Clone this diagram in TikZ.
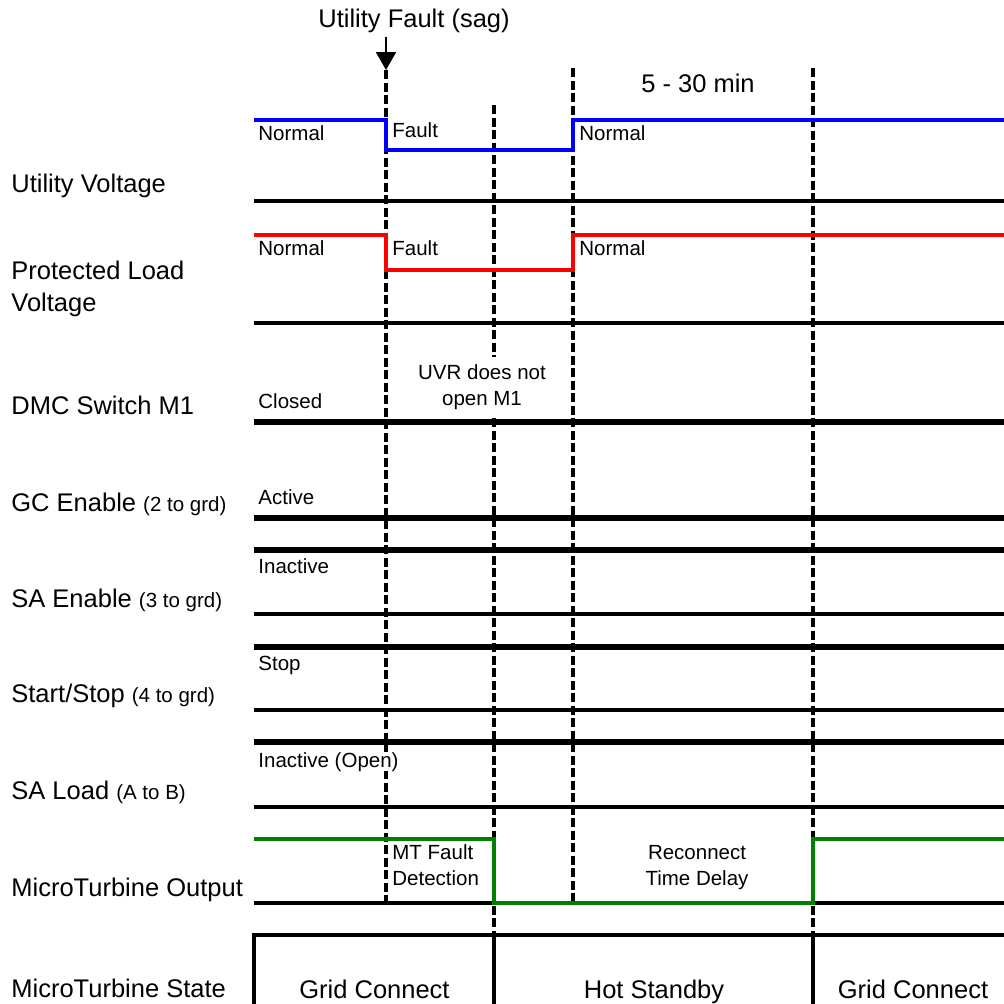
\documentclass[tikz,border=0pt]{standalone}
\usepackage{fontspec}
\setmainfont{Liberation Sans}
\usepackage{xcolor}
\definecolor{utilblue}{HTML}{0000FF}
\definecolor{loadred}{HTML}{FF0000}
\definecolor{mtgreen}{HTML}{008000}
\usetikzlibrary{arrows.meta, positioning}
\newcommand{\bigsz}{\fontsize{12.75pt}{16pt}\selectfont}
\newcommand{\smsz}{\fontsize{10.25pt}{13pt}\selectfont}
\tikzset{
  rowlbl/.style  ={anchor=base west, inner sep=0pt, font=\bigsz},
  lvllbl/.style  ={anchor=base west, inner sep=0pt, font=\smsz},
  notelbl/.style ={align=center, inner sep=4pt, font=\smsz},
  statelbl/.style={anchor=base, inner sep=0pt, font=\bigsz},
  rail/.style ={line width=1.6pt, black},
  railb/.style={line width=2.8pt, black},
  tick/.style ={line width=1.6pt, black, dash pattern=on 4.5pt off 1.75pt},
  sig/.style  ={line width=2pt, line join=miter},
  evarr/.style={-{Triangle[length=9pt, width=10pt]}, line width=1pt, black},
}

\begin{document}
\begin{tikzpicture}[x=0.5pt, y=-0.5pt]
  \useasboundingbox (0,0) rectangle (1004,1003);

  % event times
  \coordinate (tA) at (386,70);
  \coordinate (tB) at (494,105);
  \coordinate (tC) at (573,68);
  \coordinate (tD) at (813,68);
  \coordinate (rEnd) at (1012,0);

  % rail levels
  \coordinate (uvHi) at (254,120);  \coordinate (uvLo) at (254,150);  \coordinate (uvB) at (254,201);
  \coordinate (plHi) at (254,235);  \coordinate (plLo) at (254,270);  \coordinate (plB) at (254,323);
  \coordinate (dmcB) at (254,422);
  \coordinate (gcB) at (254,518);
  \coordinate (saT) at (254,550);   \coordinate (saB) at (254,614);
  \coordinate (ssT) at (254,647);   \coordinate (ssB) at (254,710);
  \coordinate (slT) at (254,742);   \coordinate (slB) at (254,807);
  \coordinate (mtHi) at (254,839); \coordinate (mtLo) at (254,903);
  \coordinate (stTop) at (254,935); \coordinate (stBot) at (254,1012);

  % top labels
  \node[font=\bigsz, inner sep=2pt, anchor=base] (flt) at (414,27) {Utility Fault (sag)};
  \node[font=\bigsz, inner sep=0pt, anchor=base] (dly) at (698,92) {5 - 30 min};
  \node[notelbl] (uvr) at (482,387.5) {UVR does not\\open M1};

  % event markers
  \draw[evarr] (tA |- flt.south) -- (tA);
  \draw[tick] (tA) -- (tA |- mtLo);
  \draw[tick] (tB) -- (tB |- uvr.north);
  \draw[tick] (tB |- uvr.south) -- (tB |- stTop);
  \draw[tick] (tC) -- (tC |- mtLo);
  \draw[tick] (tD) -- (tD |- stTop);

  % row labels
  \node[rowlbl] (uv) at (11,192) {Utility Voltage};
  \node[rowlbl, anchor=west, align=left] (plv) at (11,289) {Protected Load\\Voltage};
  \node[rowlbl] (dmc) at (11,414) {DMC Switch M1};
  \node[rowlbl] (gce) at (11,511) {GC Enable {\smsz(2 to grd)}};
  \node[rowlbl] (sae) at (11,607) {SA Enable {\smsz(3 to grd)}};
  \node[rowlbl] (ss) at (11,702) {Start/Stop {\smsz(4 to grd)}};
  \node[rowlbl] (sal) at (11,799) {SA Load {\smsz(A to B)}};
  \node[rowlbl] (mto) at (11,896) {MicroTurbine Output};
  \node[rowlbl] (mts) at (11,997) {MicroTurbine State};

  % level labels
  \node[lvllbl] (uvN1) at (258,140.5) {Normal};
  \node[lvllbl] (uvF) at (392,137) {Fault};
  \node[lvllbl] (uvN2) at (579,140) {Normal};
  \node[lvllbl] (plN1) at (258,255.5) {Normal};
  \node[lvllbl] (plF) at (392,255) {Fault};
  \node[lvllbl] (plN2) at (579,255) {Normal};
  \node[lvllbl] (dmcC) at (258,408) {Closed};
  \node[lvllbl] (gcA) at (258,504) {Active};
  \node[lvllbl] (saI) at (258,573) {Inactive};
  \node[lvllbl] (ssS) at (258,670) {Stop};
  \node[lvllbl, fill=white] (slI) at (258,767) {Inactive (Open)};
  \node[notelbl, anchor=west, align=left, inner sep=0pt] (mtf) at (392,865) {MT Fault\\Detection};
  \node[notelbl] (rtd) at (697,867.5) {Reconnect\\Time Delay};

  % rails
  \draw[rail] (uvB) -- (uvB -| rEnd);
  \draw[rail] (plB) -- (plB -| rEnd);
  \draw[railb] (dmcB) -- (dmcB -| rEnd);
  \draw[railb] (gcB) -- (gcB -| rEnd);
  \draw[railb] (saT) -- (saT -| rEnd);
  \draw[rail] (saB) -- (saB -| rEnd);
  \draw[railb] (ssT) -- (ssT -| rEnd);
  \draw[rail] (ssB) -- (ssB -| rEnd);
  \draw[railb] (slT) -- (slT -| rEnd);
  \draw[rail] (slB) -- (slB -| rEnd);
  \draw[rail] (mtLo) -- (mtLo -| rEnd);

  % signals
  \draw[sig, utilblue] (uvHi) -- (uvHi -| tA) -- (uvLo -| tA) -- (uvLo -| tC) -- (uvHi -| tC) -- (uvHi -| rEnd);
  \draw[sig, loadred] (plHi) -- (plHi -| tA) -- (plLo -| tA) -- (plLo -| tC) -- (plHi -| tC) -- (plHi -| rEnd);
  \draw[sig, mtgreen] (mtHi) -- (mtHi -| tB) -- (mtLo -| tB) -- (mtLo -| tD) -- (mtHi -| tD) -- (mtHi -| rEnd);

  % state box
  \draw[rail] (stBot) -- (stTop) -- (stTop -| rEnd);
  \draw[rail] (tB |- stTop) -- (tB |- stBot);
  \draw[rail] (tD |- stTop) -- (tD |- stBot);
  \node[statelbl] (gc1) at (374.5,998) {Grid Connect};
  \node[statelbl] (hs) at (654,998) {Hot Standby};
  \node[statelbl] (gc2) at (913,998) {Grid Connect};
\end{tikzpicture}
\end{document}
